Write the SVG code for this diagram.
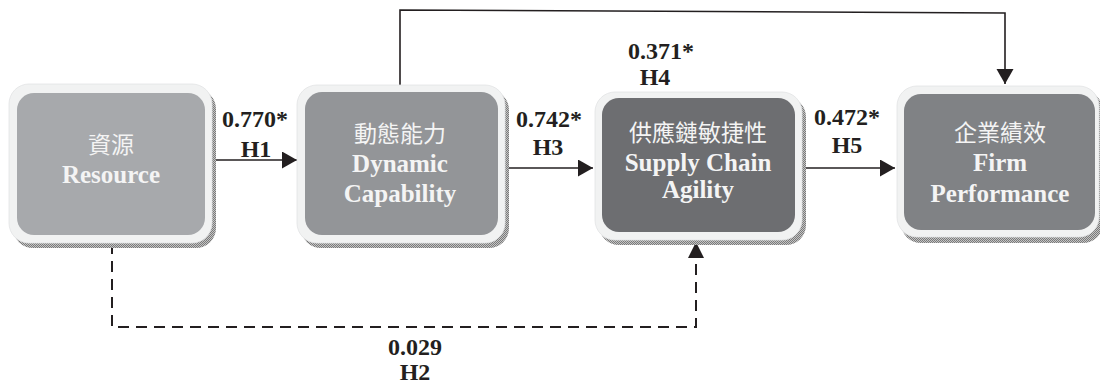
<svg xmlns="http://www.w3.org/2000/svg" width="1100" height="383" viewBox="0 0 1100 383">
<defs>
<pattern id="dots" width="2" height="2" patternUnits="userSpaceOnUse">
<rect width="2" height="2" fill="#c4c4c4"/>
<rect width="1" height="1" fill="#7a7a7a"/>
<rect x="1" y="1" width="1" height="1" fill="#7a7a7a"/>
</pattern>
<marker id="arr" markerUnits="userSpaceOnUse" markerWidth="16" markerHeight="18" refX="15" refY="8.5" orient="auto" viewBox="0 0 16 18">
<path d="M0,0 L15,8.5 L0,17 Z" fill="#231f20"/>
</marker>
</defs>
<style>
.shadow{fill:url(#dots)}
.outer{fill:#f1f2f2;stroke:#e2e3e4;stroke-width:0.8}
.cjk{font-family:"Noto Sans CJK TC","Noto Sans CJK SC",sans-serif;font-size:23px;fill:#f4f4f4;text-anchor:middle}
.en{font-family:"Liberation Serif","Times New Roman",serif;font-weight:700;font-size:25px;fill:#f4f4f4;text-anchor:middle}
.lbl{font-family:"Liberation Serif","Times New Roman",serif;font-weight:700;font-size:24px;fill:#231f20;text-anchor:middle}
.ln{fill:none;stroke:#231f20;stroke-width:1.6}
.dash{fill:none;stroke:#231f20;stroke-width:2;stroke-dasharray:11 7}
</style>
<g id="connectors">
<path class="ln" d="M212,160 H297" marker-end="url(#arr)"/>
<path class="ln" d="M505,168 H593" marker-end="url(#arr)"/>
<path class="ln" d="M802,168 H895" marker-end="url(#arr)"/>
<path class="ln" d="M400,85 V10 L1005,13 V84" marker-end="url(#arr)"/>
<path class="dash" d="M112,243 V327 H696 V258"/>
<path d="M688,258 L696,242 L704,258 Z" fill="#231f20"/>
<text class="lbl" x="255" y="127">0.770*</text>
<text class="lbl" x="256" y="157">H1</text>
<text class="lbl" x="549" y="127">0.742*</text>
<text class="lbl" x="548" y="155">H3</text>
<text class="lbl" x="847" y="125">0.472*</text>
<text class="lbl" x="847" y="153">H5</text>
<text class="lbl" x="661" y="59">0.371*</text>
<text class="lbl" x="655" y="85">H4</text>
<text class="lbl" x="415" y="355">0.029</text>
<text class="lbl" x="415" y="380">H2</text>
</g>
<g id="node-resource">
<rect class="shadow" x="13" y="89" width="203" height="159" rx="20"/>
<rect class="outer" x="9" y="84" width="203" height="159" rx="20"/>
<rect x="17" y="93" width="188" height="142" rx="17" fill="#a7a9ac"/>
<text class="cjk" x="111" y="153">資源</text>
<text class="en" x="111" y="183">Resource</text>
</g>
<g id="node-dynamic">
<rect class="shadow" x="301" y="90" width="208" height="158" rx="20"/>
<rect class="outer" x="297" y="85" width="208" height="158" rx="20"/>
<rect x="305" y="92" width="193" height="143" rx="17" fill="#939598"/>
<text class="cjk" x="400" y="142">動態能力</text>
<text class="en" x="400" y="172">Dynamic</text>
<text class="en" x="400" y="202">Capability</text>
</g>
<g id="node-agility">
<rect class="shadow" x="599" y="97" width="207" height="148" rx="20"/>
<rect class="outer" x="595" y="92" width="207" height="148" rx="20"/>
<rect x="602" y="98" width="193" height="134" rx="17" fill="#6d6e71"/>
<text class="cjk" x="698" y="141">供應鏈敏捷性</text>
<text class="en" x="698" y="171">Supply Chain</text>
<text class="en" x="698" y="198">Agility</text>
</g>
<g id="node-performance">
<rect class="shadow" x="901" y="91" width="202" height="152" rx="20"/>
<rect class="outer" x="897" y="86" width="202" height="151" rx="20"/>
<rect x="904" y="94" width="191" height="136" rx="17" fill="#808285"/>
<text class="cjk" x="1000" y="141">企業績效</text>
<text class="en" x="1000" y="171">Firm</text>
<text class="en" x="1000" y="202">Performance</text>
</g>
</svg>
